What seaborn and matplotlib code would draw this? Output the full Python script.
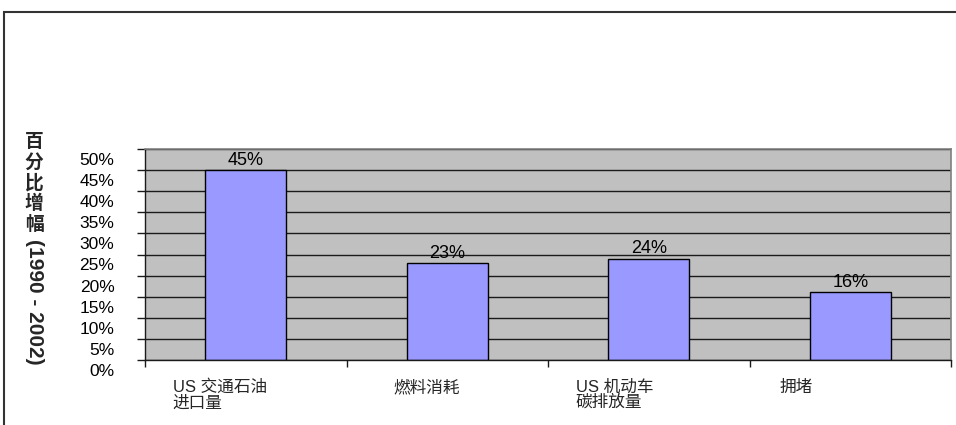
import numpy as np
import pandas as pd
import matplotlib
matplotlib.use("Agg")
import matplotlib.pyplot as plt
import matplotlib.transforms as mtransforms
from matplotlib.patches import Rectangle
import seaborn as sns

# ---- data ----
categories = ["US 交通石油\n进口量", "燃料消耗", "US 机动车\n碳排放量", "拥堵"]
values = [0.45, 0.23, 0.24, 0.16]
ytick_values = [0.0, 0.05, 0.10, 0.15, 0.20, 0.25, 0.30, 0.35, 0.40, 0.45, 0.50]
ytick_labels = ["0%", "5%", "10%", "15%", "20%", "25%", "30%", "35%", "40%", "45%", "50%"]
bar_labels = ["45%", "23%", "24%", "16%"]
ylabel_cjk = "百分比增幅"
ylabel_years = "(1990 - 2002)"

sns.set_theme(style="white")
plt.rcParams["font.family"] = ["Liberation Sans", "Noto Sans CJK SC", "DejaVu Sans"]

W, H = 956, 425
fig = plt.figure(figsize=(W / 100, H / 100), dpi=100)
fig.patch.set_facecolor("white")

left, right, top, bottom = 145, 951, 149, 360
ax = fig.add_axes([left / W, 1 - bottom / H, (right - left) / W, (bottom - top) / H])

df = pd.DataFrame({"cat": categories, "val": values})
sns.barplot(data=df, x="cat", y="val", color="#9999FF", saturation=1,
            edgecolor="black", linewidth=1.0, width=0.4, ax=ax)

ax.set_facecolor("#C0C0C0")
ax.set_xlim(-0.5, len(categories) - 0.5)
ax.set_ylim(0, 0.5)
ax.set_xlabel("")
ax.set_ylabel("")

# grid
ax.set_axisbelow(True)
ax.yaxis.grid(True, color="#1a1a1a", linewidth=1.0)
ax.xaxis.grid(False)

# spines
for s in ["top", "right"]:
    ax.spines[s].set_color("#808080")
    ax.spines[s].set_linewidth(1.2)
ax.spines["left"].set_color("#1a1a1a")
ax.spines["bottom"].set_color("#1a1a1a")
ax.spines["left"].set_linewidth(1.0)
ax.spines["bottom"].set_linewidth(1.0)

# y ticks
ax.set_yticks(ytick_values)
ax.set_yticklabels(ytick_labels, fontsize=12.5, color="black")
ax.tick_params(axis="y", direction="out", length=6, width=1, color="#1a1a1a", pad=16, left=True)
yoff = mtransforms.ScaledTranslation(0, -10 / 100, fig.dpi_scale_trans)
for lab in ax.get_yticklabels():
    lab.set_transform(lab.get_transform() + yoff)

# x ticks: marks at boundaries, labels at centres
ax.set_xticks(np.arange(-0.5, len(categories), 1.0), minor=True)
ax.tick_params(axis="x", which="minor", direction="out", length=5, width=1, color="#1a1a1a", bottom=True)
ax.set_xticks(np.arange(len(categories)))
ax.set_xticklabels(categories, fontsize=12, ha="left", va="top", linespacing=1.0)
ax.tick_params(axis="x", which="major", length=0, pad=14)
xshift_px = [-73, -54, -73, -71]
for lab, dx in zip(ax.get_xticklabels(), xshift_px):
    lab.set_transform(lab.get_transform() + mtransforms.ScaledTranslation(dx / 100, 0, fig.dpi_scale_trans))
    lab.set_multialignment("left")

# bar value labels
ax.bar_label(ax.containers[0], labels=bar_labels, padding=1, fontsize=13, color="black")

# y axis label (vertical East-Asian style)
fig.text(34 / W, 1 - 132 / H, "\n".join(ylabel_cjk), ha="center", va="top",
         fontsize=13.5, fontweight="bold", linespacing=1.12,
         family=["Noto Sans CJK SC", "DejaVu Sans"])
fig.text(34 / W, 1 - 239 / H, ylabel_years, ha="center", va="top", rotation=270,
         fontsize=15, fontweight="bold")

# outer chart border
fig.add_artist(Rectangle((4 / W, -0.2), 1.5, (1 - 12 / H) + 0.2, transform=fig.transFigure,
                         fill=False, edgecolor="#333333", linewidth=1.5, clip_on=False))

fig.savefig("out.png", dpi=100)
